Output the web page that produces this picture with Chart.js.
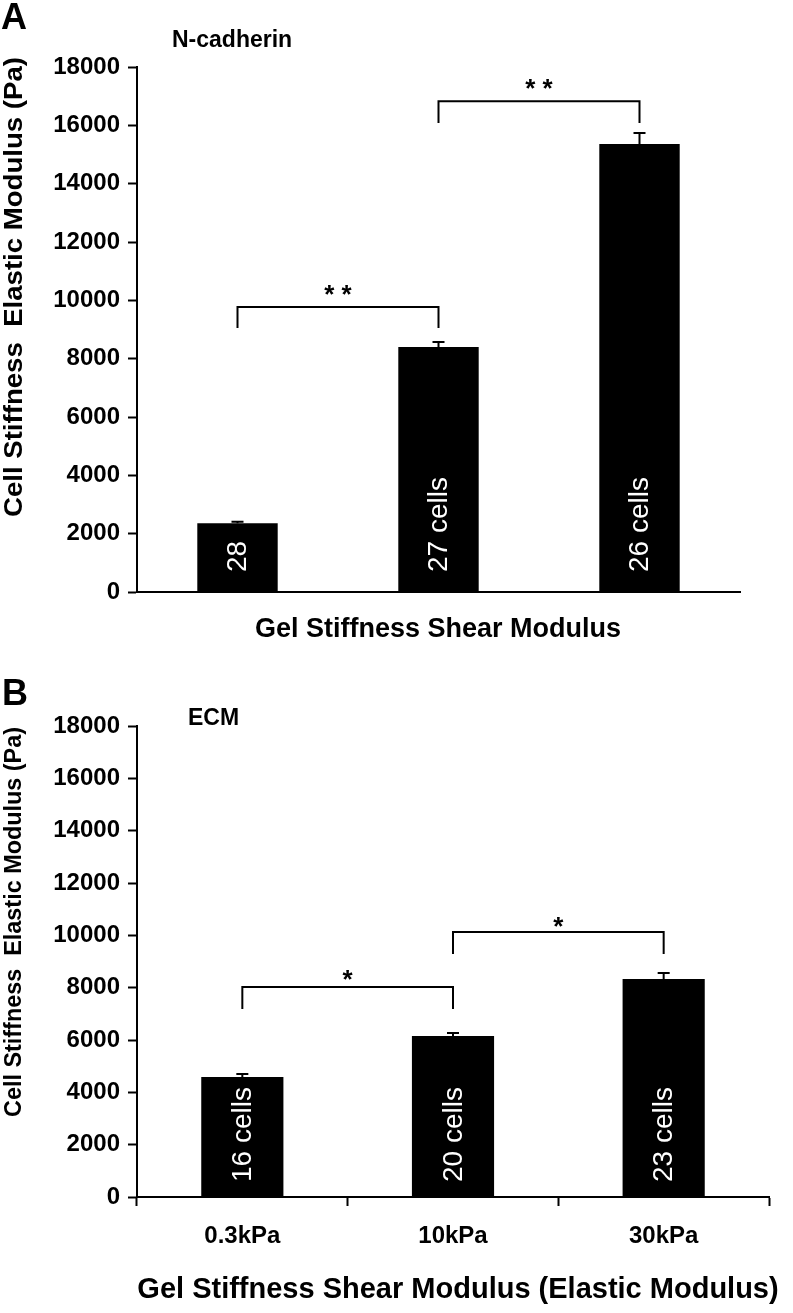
<!DOCTYPE html>
<html>
<head>
<meta charset="utf-8">
<script src="https://cdn.jsdelivr.net/npm/chart.js@4.4.0/dist/chart.umd.min.js"></script>
<style>
  html, body { margin: 0; padding: 0; background: #fff; }
  .panel { position: absolute; left: 0; width: 793px; }
  #panelA { top: 0; height: 660px; }
  #panelB { top: 660px; height: 653px; }
</style>
</head>
<body>
<div class="panel" id="panelA"><canvas id="chartA" width="793" height="660"></canvas></div>
<div class="panel" id="panelB"><canvas id="chartB" width="793" height="653"></canvas></div>
<script>
// --- data ---
const gelLabels = ['0.3kPa', '10kPa', '30kPa'];
const stiffnessTicks = [0, 2000, 4000, 6000, 8000, 10000, 12000, 14000, 16000, 18000];

// A: N-cadherin
const ncadMeans = [2360, 8400, 15360];
const ncadErrors = [50, 170, 380];
const ncadCells = ['28', '27 cells', '26 cells'];
const ncadPairs = [[0, 1], [1, 2]];
const ncadBracketTops = [9770, 16830];
const ncadBracketLegs = [9050, 16080];
const ncadStarLevels = [10420, 17480];
const ncadStars = ['* *', '* *'];

// B: ECM
const ecmMeans = [4590, 6150, 8330];
const ecmErrors = [110, 120, 230];
const ecmCells = ['16 cells', '20 cells', '23 cells'];
const ecmPairs = [[0, 1], [1, 2]];
const ecmBracketTops = [8025, 10130];
const ecmBracketLegs = [7185, 9290];
const ecmStarLevels = [8560, 10585];
const ecmStars = ['*', '*'];

const FONT = "'Liberation Sans', Arial, sans-serif";

// error bars, counts inside bars, brackets and text around the plot
const figureMarks = {
  id: 'figureMarks',
  afterDatasetsDraw(chart, args, o) {
    const ctx = chart.ctx;
    const xs = chart.scales.x, ys = chart.scales.y;
    const meta = chart.getDatasetMeta(0);
    ctx.save();
    ctx.strokeStyle = '#000';
    ctx.lineWidth = 2;

    // error bars (upper half only)
    o.means.forEach((m, i) => {
      const cx = meta.data[i].x;
      const y0 = ys.getPixelForValue(m);
      const y1 = ys.getPixelForValue(m + o.errors[i]);
      ctx.beginPath();
      ctx.moveTo(cx, y0); ctx.lineTo(cx, y1);
      ctx.moveTo(cx - 6, y1); ctx.lineTo(cx + 6, y1);
      ctx.stroke();
    });

    // cell counts, rotated, white
    ctx.fillStyle = '#fff';
    ctx.font = '28px ' + FONT;
    ctx.textAlign = 'left';
    ctx.textBaseline = 'middle';
    o.cells.forEach((t, i) => {
      const cx = meta.data[i].x;
      ctx.save();
      ctx.translate(cx, ys.getPixelForValue(0) - o.cellOffset);
      ctx.rotate(-Math.PI / 2);
      ctx.fillText(t, 0, 1);
      ctx.restore();
    });

    // significance brackets
    ctx.fillStyle = '#000';
    ctx.font = 'bold 26px ' + FONT;
    ctx.textAlign = 'center';
    ctx.textBaseline = 'alphabetic';
    o.pairs.forEach((p, i) => {
      const xa = xs.getPixelForValue(p[0]);
      const xb = xs.getPixelForValue(p[1]);
      const yt = ys.getPixelForValue(o.tops[i]);
      const yl = ys.getPixelForValue(o.legs[i]);
      ctx.beginPath();
      ctx.moveTo(xa, yl); ctx.lineTo(xa, yt); ctx.lineTo(xb, yt); ctx.lineTo(xb, yl);
      ctx.stroke();
      ctx.fillText(o.stars[i], (xa + xb) / 2, ys.getPixelForValue(o.starLevels[i]) + 15);
    });
    ctx.restore();
  },
  afterDraw(chart, args, o) {
    const ctx = chart.ctx;
    ctx.save();
    ctx.fillStyle = '#000';
    ctx.textBaseline = 'alphabetic';

    ctx.font = 'bold 36px ' + FONT;
    ctx.textAlign = 'left';
    ctx.fillText(o.letter, o.letterPos[0], o.letterPos[1]);

    ctx.font = 'bold 23px ' + FONT;
    ctx.fillText(o.subtitle, o.subtitlePos[0], o.subtitlePos[1]);

    ctx.font = 'bold ' + o.xTitleSize + 'px ' + FONT;
    ctx.textAlign = 'center';
    ctx.textBaseline = 'middle';
    ctx.fillText(o.xTitle, o.xTitlePos[0], o.xTitlePos[1]);

    // y title, stretched along its length like the source figure
    ctx.font = 'bold ' + o.yTitleSize + 'px ' + FONT;
    const w = ctx.measureText(o.yTitle).width;
    ctx.translate(o.yTitlePos[0], o.yTitlePos[1]);
    ctx.rotate(-Math.PI / 2);
    ctx.scale(o.yTitleLen / w, 1);
    ctx.fillText(o.yTitle, 0, 0);
    ctx.restore();
  }
};

function makePanel(canvasId, cfg) {
  const showXTicks = cfg.showXTicks;
  return new Chart(document.getElementById(canvasId), {
    type: 'bar',
    data: {
      labels: gelLabels,
      datasets: [{
        data: cfg.means,
        backgroundColor: '#000',
        borderWidth: 0,
        barPercentage: cfg.barPct,
        categoryPercentage: 1
      }]
    },
    options: {
      responsive: false,
      animation: false,
      events: [],
      layout: { padding: { top: cfg.top, right: cfg.right, left: 0, bottom: 0 } },
      plugins: {
        legend: { display: false },
        tooltip: { enabled: false },
        figureMarks: cfg.marks
      },
      scales: {
        x: {
          offset: true,
          grid: {
            display: showXTicks,
            offset: true,
            drawOnChartArea: false,
            tickLength: 9,
            tickColor: '#000',
            tickWidth: 2,
            color: '#000'
          },
          border: { color: '#000', width: 2 },
          ticks: {
            display: showXTicks,
            color: '#000',
            padding: 16,
            font: { family: FONT, size: 24, weight: 'bold' }
          },
          afterFit: s => { s.height = cfg.xHeight; }
        },
        y: {
          min: 0,
          max: 18000,
          afterBuildTicks: s => { s.ticks = stiffnessTicks.map(v => ({ value: v })); },
          grid: {
            drawOnChartArea: false,
            tickLength: 9,
            tickColor: '#000',
            tickWidth: 2,
            color: '#000'
          },
          border: { color: '#000', width: 2 },
          ticks: {
            color: '#000',
            padding: 8,
            callback: v => String(v),
            font: { family: FONT, size: 24, weight: 'bold' }
          },
          afterFit: s => { s.width = 137; }
        }
      }
    },
    plugins: [figureMarks]
  });
}

makePanel('chartA', {
  means: ncadMeans,
  barPct: 0.4,
  top: 67,
  right: 53,
  xHeight: 68,
  showXTicks: false,
  marks: {
    means: ncadMeans, errors: ncadErrors, cells: ncadCells, cellOffset: 20,
    pairs: ncadPairs, tops: ncadBracketTops, legs: ncadBracketLegs,
    starLevels: ncadStarLevels, stars: ncadStars,
    letter: 'A', letterPos: [1, 29],
    subtitle: 'N-cadherin', subtitlePos: [172, 47],
    xTitle: 'Gel Stiffness Shear Modulus', xTitleSize: 27, xTitlePos: [438, 630],
    yTitle: 'Cell Stiffness  Elastic Modulus (Pa)', yTitleSize: 25, yTitlePos: [15, 287], yTitleLen: 460
  }
});

makePanel('chartB', {
  means: ecmMeans,
  barPct: 0.39,
  top: 66,
  right: 24,
  xHeight: 116,
  showXTicks: true,
  marks: {
    means: ecmMeans, errors: ecmErrors, cells: ecmCells, cellOffset: 15,
    pairs: ecmPairs, tops: ecmBracketTops, legs: ecmBracketLegs,
    starLevels: ecmStarLevels, stars: ecmStars,
    letter: 'B', letterPos: [2, 45],
    subtitle: 'ECM', subtitlePos: [188, 65],
    xTitle: 'Gel Stiffness Shear Modulus (Elastic Modulus)', xTitleSize: 29, xTitlePos: [458, 630],
    yTitle: 'Cell Stiffness  Elastic Modulus (Pa)', yTitleSize: 23, yTitlePos: [15, 262], yTitleLen: 390
  }
});
</script>
</body>
</html>
